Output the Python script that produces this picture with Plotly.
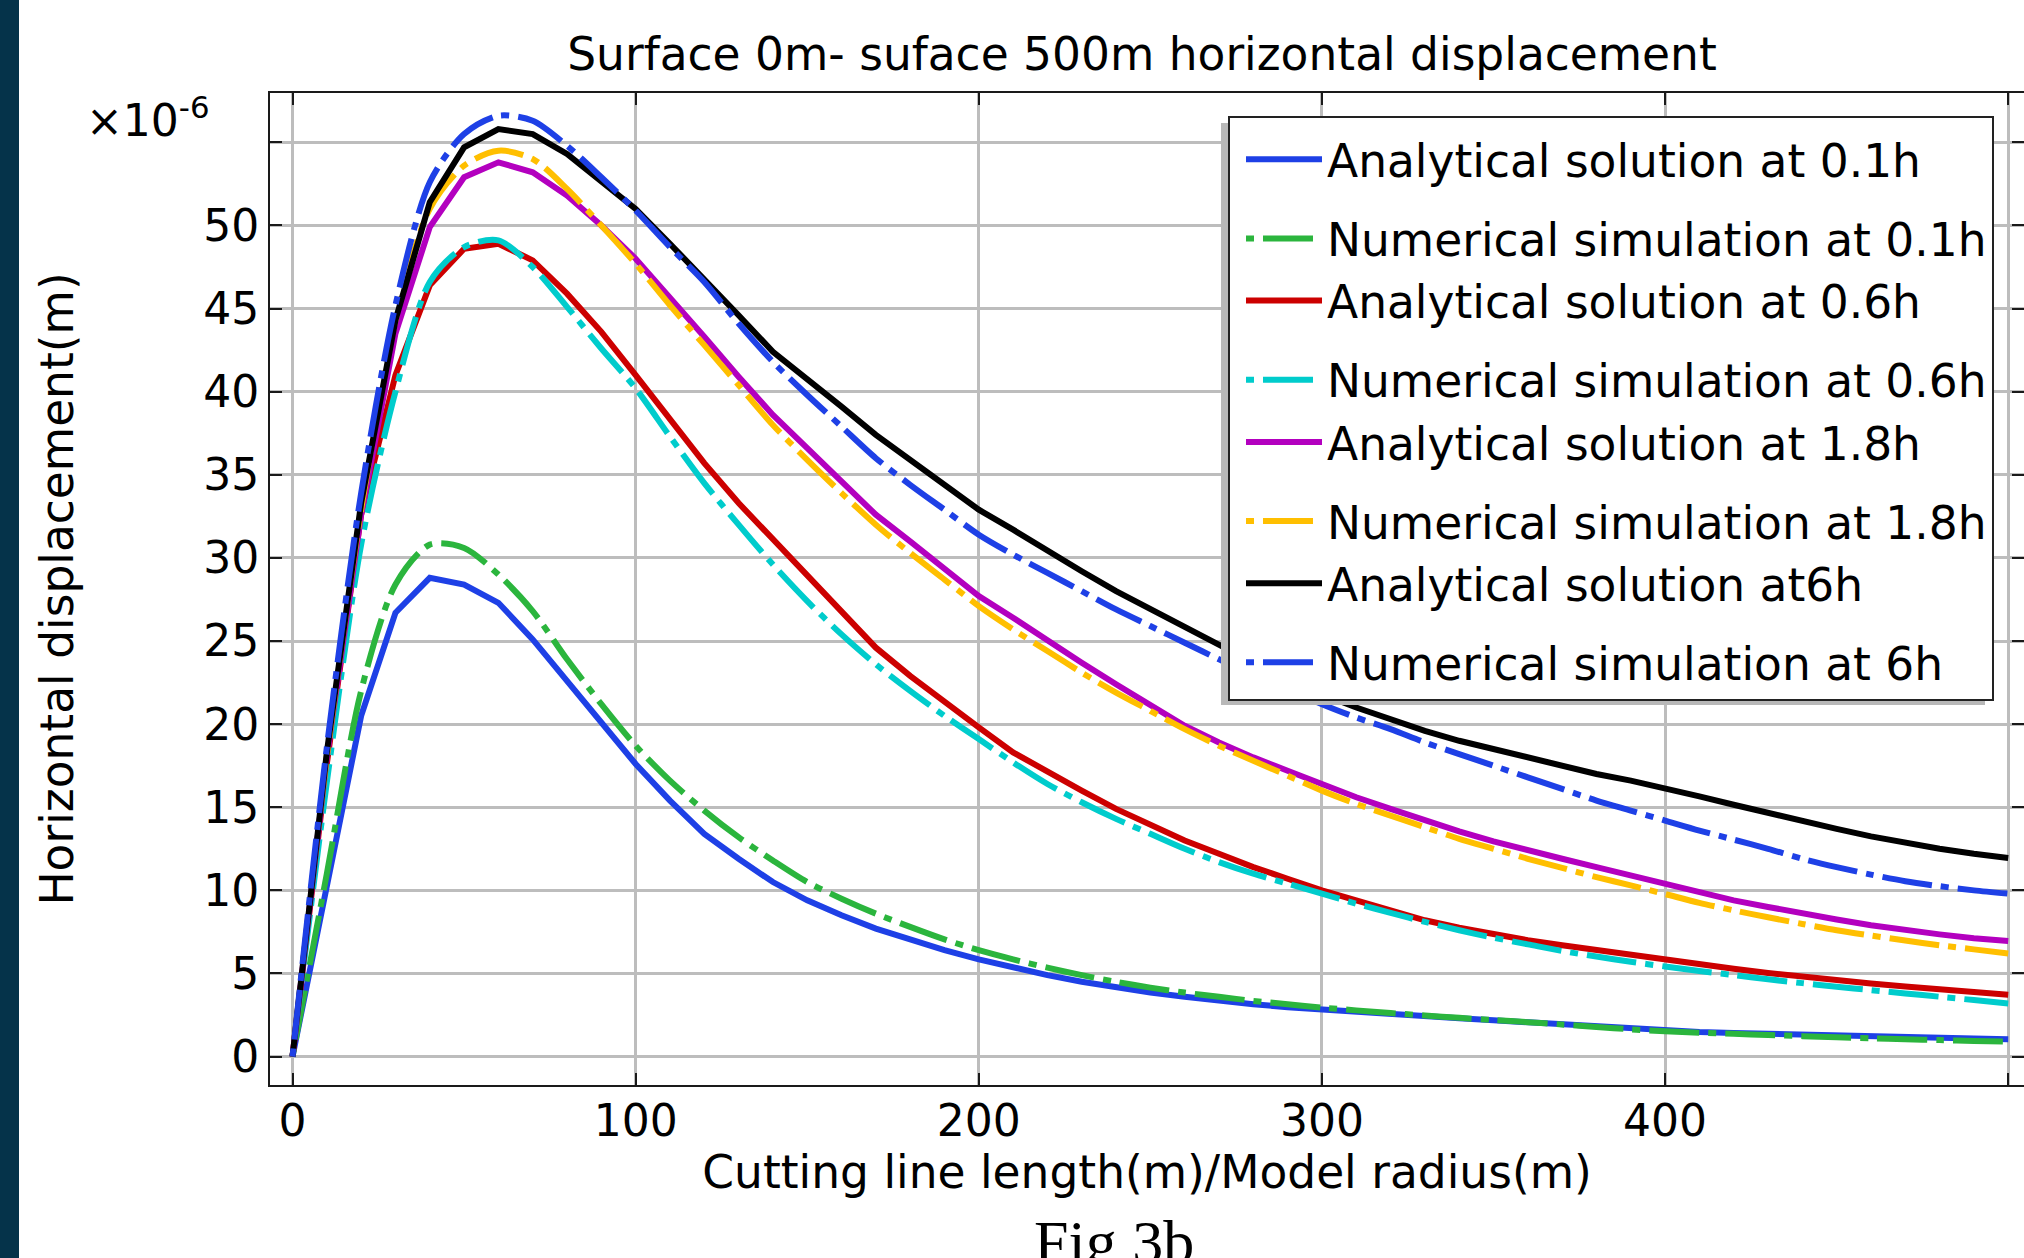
import plotly.graph_objects as go

# ---------------- data (values in units of 1e-6 m) ----------------
x_m = list(range(0, 501, 10))

analytical_01h = [0, 10.3, 20.5, 26.7, 28.8, 28.4, 27.3, 25.1, 22.6, 20.1,
                  17.6, 15.4, 13.4, 11.9, 10.5, 9.4, 8.5, 7.7, 7.05, 6.4,
                  5.85, 5.35, 4.9, 4.5, 4.15, 3.85, 3.6, 3.35, 3.15, 2.97,
                  2.82, 2.68, 2.55, 2.42, 2.3, 2.18, 2.05, 1.93, 1.8, 1.68,
                  1.55, 1.48, 1.42, 1.36, 1.31, 1.26, 1.21, 1.16, 1.12, 1.08, 1.04]

numerical_01h = [0, 11.0, 22.0, 28.4, 30.8, 30.6, 29.0, 26.8, 23.9, 21.2,
                 18.7, 16.6, 14.8, 13.2, 11.8, 10.5, 9.5, 8.6, 7.8, 7.05,
                 6.4, 5.85, 5.35, 4.9, 4.5, 4.15, 3.85, 3.6, 3.35, 3.15,
                 2.95, 2.78, 2.62, 2.47, 2.33, 2.2, 2.07, 1.93, 1.78, 1.64,
                 1.52, 1.44, 1.37, 1.3, 1.23, 1.16, 1.1, 1.04, 0.99, 0.94, 0.9]

analytical_06h = [0, 17.6, 32.6, 41.0, 46.4, 48.6, 48.9, 47.9, 45.9, 43.6,
                  41.0, 38.4, 35.7, 33.3, 31.1, 29.0, 26.7, 24.6, 22.9, 21.3,
                  19.8, 18.3, 17.1, 16.0, 14.9, 13.9, 13.0, 12.2, 11.4, 10.7,
                  10.0, 9.4, 8.8, 8.2, 7.75, 7.35, 7.0, 6.7, 6.4, 6.1,
                  5.82, 5.55, 5.28, 5.03, 4.8, 4.6, 4.4, 4.22, 4.04, 3.87, 3.72]

numerical_06h = [0, 16.5, 30.8, 40.0, 46.6, 48.7, 49.1, 47.5, 45.1, 42.6,
                 40.2, 37.3, 34.5, 32.0, 29.6, 27.4, 25.4, 23.6, 22.0, 20.5,
                 19.1, 17.7, 16.4, 15.3, 14.3, 13.4, 12.5, 11.7, 11.0, 10.4,
                 9.8, 9.2, 8.65, 8.1, 7.6, 7.15, 6.75, 6.35, 6.02, 5.7,
                 5.42, 5.15, 4.9, 4.65, 4.42, 4.2, 4.0, 3.8, 3.6, 3.4, 3.2]

analytical_18h = [0, 18.0, 32.6, 43.5, 49.9, 52.9, 53.8, 53.2, 51.8, 50.0,
                  48.0, 45.7, 43.3, 40.9, 38.6, 36.6, 34.6, 32.6, 31.0, 29.3,
                  27.7, 26.4, 25.0, 23.7, 22.4, 21.1, 19.9, 18.9, 18.0, 17.2,
                  16.4, 15.6, 14.9, 14.2, 13.55, 12.95, 12.4, 11.9, 11.4, 10.9,
                  10.35, 9.85, 9.4, 9.0, 8.6, 8.25, 7.9, 7.6, 7.35, 7.12, 6.95]

numerical_18h = [0, 18.0, 32.9, 44.3, 51.0, 53.6, 54.5, 54.0, 52.2, 50.0,
                 47.7, 45.2, 42.8, 40.4, 38.0, 35.9, 33.9, 32.0, 30.3, 28.7,
                 27.1, 25.7, 24.4, 23.1, 21.9, 20.8, 19.7, 18.7, 17.8, 16.9,
                 16.0, 15.2, 14.5, 13.8, 13.1, 12.5, 11.9, 11.35, 10.8, 10.3,
                 9.78, 9.25, 8.8, 8.38, 7.98, 7.6, 7.28, 6.98, 6.7, 6.45, 6.2]

analytical_6h = [0, 18.3, 33.3, 44.3, 51.4, 54.7, 55.8, 55.5, 54.3, 52.7,
                 51.0, 48.9, 46.8, 44.6, 42.4, 40.8, 39.1, 37.4, 35.9, 34.4,
                 32.9, 31.7, 30.4, 29.2, 28.0, 26.9, 25.8, 24.8, 23.7, 22.7,
                 21.8, 21.0, 20.3, 19.6, 19.0, 18.5, 18.0, 17.5, 17.0, 16.6,
                 16.15, 15.65, 15.15, 14.65, 14.15, 13.7, 13.25, 12.85, 12.5, 12.2, 11.95]

numerical_6h = [0, 18.6, 33.9, 45.2, 52.6, 55.5, 56.6, 56.3, 54.8, 52.9,
                50.9, 48.7, 46.6, 44.1, 41.8, 39.8, 37.9, 36.0, 34.4, 32.9,
                31.4, 30.2, 29.1, 28.0, 26.9, 25.9, 24.9, 23.9, 23.0, 22.1,
                21.2, 20.4, 19.7, 18.9, 18.2, 17.5, 16.8, 16.1, 15.4, 14.8,
                14.2, 13.6, 13.05, 12.5, 11.9, 11.4, 10.95, 10.55, 10.25, 10.0, 9.8]

series_names = ["Analytical solution at 0.1h", "Numerical simulation at 0.1h",
                "Analytical solution at 0.6h", "Numerical simulation at 0.6h",
                "Analytical solution at 1.8h", "Numerical simulation at 1.8h",
                "Analytical solution at6h", "Numerical simulation at 6h"]
series_values = [analytical_01h, numerical_01h, analytical_06h, numerical_06h,
                 analytical_18h, numerical_18h, analytical_6h, numerical_6h]
series_colors = ["#1e40e6", "#2bb53d", "#cc0000", "#00cccc",
                 "#b300bf", "#ffbf00", "#000000", "#1e40e6"]
legend_groups = ["g0", "g1", "g1", "g2", "g2", "g3", "g3", "g4"]

y_tick_vals = [0, 5, 10, 15, 20, 25, 30, 35, 40, 45, 50, 55]
y_tick_text = ["0", "5", "10", "15", "20", "25", "30", "35", "40", "45", "50", " "]
x_tick_vals = [0, 100, 200, 300, 400, 500]
x_tick_text = ["0", "100", "200", "300", "400", " "]

# ---------------- figure ----------------
W, H = 2024, 1258
ML, MR, MT, MB = 270, 0, 93, 173
PW, PH = W - ML - MR, H - MT - MB
FONT = "DejaVu Sans"
DASHDOT = "8px,9px,50px,9px"


def px_to_paper_x(px):
    return (px - ML) / PW


def px_to_paper_y(py):
    return (H - MB - py) / PH


fig = go.Figure()
for name, vals, col, grp in zip(series_names, series_values, series_colors, legend_groups):
    numerical = name.startswith("Numerical")
    fig.add_trace(go.Scatter(
        x=x_m, y=vals, mode="lines", name=name, legendgroup=grp,
        line=dict(color=col, width=6, dash=DASHDOT if numerical else "solid",
                  shape="spline" if numerical else "linear", smoothing=0.8),
    ))

axis_common = dict(
    showgrid=True, gridcolor="#bdbdbd", gridwidth=3, zeroline=False,
    showline=True, linecolor="#1a1a1a", linewidth=2, mirror="ticks",
    ticks="inside", ticklen=12, tickwidth=2, tickcolor="#1a1a1a",
    tickfont=dict(family=FONT, size=44, color="black"),
)

fig.update_layout(
    width=W, height=H,
    margin=dict(l=ML, r=MR, t=MT, b=MB, autoexpand=False),
    paper_bgcolor="white", plot_bgcolor="white",
    font=dict(family=FONT, color="black"),
    title=dict(text="Surface 0m- suface 500m horizontal displacement",
               font=dict(family=FONT, size=45.5, color="black"),
               x=px_to_paper_x(1142), xref="paper", xanchor="center",
               y=1 - 54 / H, yref="container", yanchor="middle"),
    xaxis=dict(range=[-6.56, 504.6], tickvals=x_tick_vals, ticktext=x_tick_text,
               ticklabelstandoff=-4,
               title=dict(text="Cutting line length(m)/Model radius(m)",
                          font=dict(family=FONT, size=45.5, color="black"), standoff=0),
               **axis_common),
    yaxis=dict(range=[-1.71, 57.97], tickvals=y_tick_vals, ticktext=y_tick_text,
               title=dict(text="Horizontal displacement(m)",
                          font=dict(family=FONT, size=45.5, color="black"), standoff=115),
               **axis_common),
    legend=dict(x=px_to_paper_x(1228), y=px_to_paper_y(116), xanchor="left", yanchor="top",
                bgcolor="white", bordercolor="#222222", borderwidth=2,
                font=dict(family=FONT, size=45.5, color="black"),
                title=dict(text="&nbsp;", font=dict(family=FONT, size=4)),
                itemwidth=76, indentation=11, tracegroupgap=17, traceorder="grouped"),
    showlegend=True,
)

# legend drop shadow
fig.add_shape(type="rect", xref="paper", yref="paper", layer="above",
              x0=px_to_paper_x(1221), x1=px_to_paper_x(1985),
              y0=px_to_paper_y(705), y1=px_to_paper_y(123),
              fillcolor="#b8b8b8", line=dict(width=0))

# dark strip on the left edge of the page
fig.add_shape(type="rect", xref="paper", yref="paper", layer="above",
              x0=px_to_paper_x(0), x1=px_to_paper_x(19),
              y0=px_to_paper_y(H), y1=px_to_paper_y(0),
              fillcolor="#05334a", line=dict(width=0))

# exponent label
fig.add_annotation(text="×10<sup>-6</sup>", xref="paper", yref="paper",
                   x=px_to_paper_x(84), y=px_to_paper_y(118), xanchor="left", yanchor="middle",
                   showarrow=False, font=dict(family=FONT, size=44, color="black"))

# figure caption (cut at bottom)
fig.add_annotation(text="Fig 3b", xref="paper", yref="paper",
                   x=px_to_paper_x(1114), y=px_to_paper_y(1206), xanchor="center", yanchor="top",
                   showarrow=False, font=dict(family="Liberation Serif", size=62, color="black"))

fig.write_html("out.html", config={"displayModeBar": False},
               post_script="document.body.style.margin='0px';document.body.style.overflow='hidden';")
